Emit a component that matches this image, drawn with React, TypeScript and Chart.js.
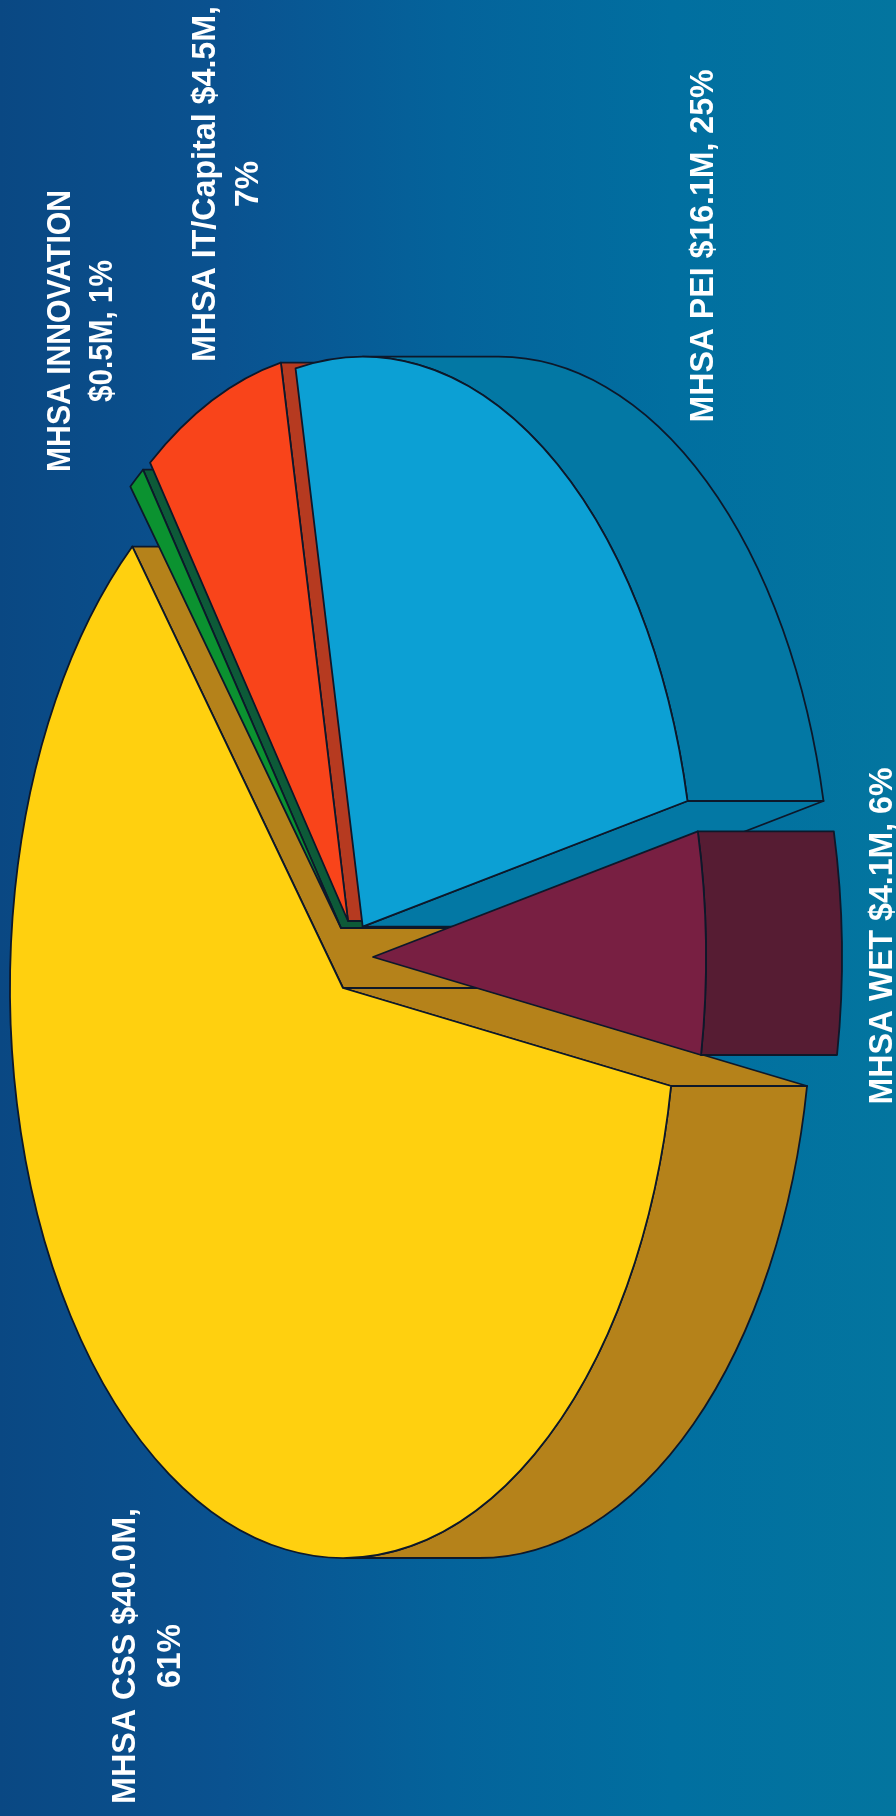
import React, { useEffect, useRef } from "react";
import { Chart, registerables } from "chart.js";

Chart.register(...registerables);

// Funding by MHSA component, in millions of dollars.
const categories = ["MHSA CSS", "MHSA INNOVATION", "MHSA IT/Capital", "MHSA PEI", "MHSA WET"];
const millions = [40.0, 0.5, 4.5, 16.1, 4.1];

// Labels are printed sideways, one array entry per line.
const labelLines = [
  ["MHSA CSS $40.0M,", "61%"],
  ["MHSA INNOVATION", "$0.5M, 1%"],
  ["MHSA IT/Capital $4.5M,", "7%"],
  ["MHSA PEI $16.1M, 25%"],
  ["MHSA WET $4.1M, 6%"],
];
const labelBaselineX = [[135, 180], [69.5, 112], [215, 258], [713], [892]];
const labelCenterY = [1656, 331, 184, 246, 936];
const labelMaxLength = [[296, 64], [282, 142], [356, 46], [353], [337]];

const faceColors = ["#ffd00f", "#0b9230", "#f9441a", "#0ca0d4", "#781f42"];
const wallColors = ["#b5821a", "#0d5a38", "#b63a20", "#0378a4", "#561c33"];

// Exploded position of each slice's apex relative to the pie centre.
const explodeX = [0, -2, 5, 19.7, 30];
const explodeY = [0, -60, -67, -61.3, -31];

const WIDTH = 896;
const HEIGHT = 1816;
const CX = 343;
const CY = 988;
const RX = 333;
const RY = 570;
const DEPTH = 136;
const SQUASH = RX / RY;
const OUTLINE = "#0d182a";
const FONT = 'bold 32.5px "Liberation Sans", Arial, sans-serif';

function apexOf(arc: any) {
  return { x: CX + (arc.x - CX) * SQUASH, y: arc.y };
}

function strokePath(ctx: CanvasRenderingContext2D) {
  ctx.strokeStyle = OUTLINE;
  ctx.lineWidth = 1.8;
  ctx.lineJoin = "round";
  ctx.stroke();
}

function drawCutWall(ctx: CanvasRenderingContext2D, ax: number, ay: number, angle: number, color: string) {
  const ex = ax + RX * Math.cos(angle);
  const ey = ay + RY * Math.sin(angle);
  ctx.beginPath();
  ctx.moveTo(ax, ay);
  ctx.lineTo(ex, ey);
  ctx.lineTo(ex + DEPTH, ey);
  ctx.lineTo(ax + DEPTH, ay);
  ctx.closePath();
  ctx.fillStyle = color;
  ctx.fill();
  strokePath(ctx);
}

function drawRimWall(ctx: CanvasRenderingContext2D, ax: number, ay: number, from: number, to: number, color: string) {
  ctx.beginPath();
  ctx.ellipse(ax, ay, RX, RY, 0, from, to);
  ctx.ellipse(ax + DEPTH, ay, RX, RY, 0, to, from, true);
  ctx.closePath();
  ctx.fillStyle = color;
  ctx.fill();
  strokePath(ctx);
}

const pie3d = {
  id: "pie3d",
  // Moves every slice to its exploded position once the controller has laid them out.
  afterDatasetsUpdate(chart: any) {
    chart.getDatasetMeta(0).data.forEach((arc: any, i: number) => {
      arc.x = CX + explodeX[i] / SQUASH;
      arc.y = CY + explodeY[i];
    });
  },
  // Side walls sit under the top faces; the extrusion runs towards +x.
  beforeDatasetsDraw(chart: any) {
    const ctx = chart.ctx as CanvasRenderingContext2D;
    chart.getDatasetMeta(0).data.forEach((arc: any, i: number) => {
      const { x, y } = apexOf(arc);
      const start = arc.startAngle;
      const end = arc.endAngle;
      if (Math.sin(start) > 0) drawCutWall(ctx, x, y, start, wallColors[i]);
      if (Math.sin(end) < 0) drawCutWall(ctx, x, y, end, wallColors[i]);
      // Only the part of the rim that faces +x can be seen.
      const twoPi = Math.PI * 2;
      for (let k = -1; k <= 1; k++) {
        const from = Math.max(start, -Math.PI / 2 + k * twoPi);
        const to = Math.min(end, Math.PI / 2 + k * twoPi);
        if (to > from) drawRimWall(ctx, x, y, from, to, wallColors[i]);
      }
    });
    // The round pie's arcs are squashed into the tilted ellipse.
    ctx.save();
    ctx.translate(CX, CY);
    ctx.scale(SQUASH, 1);
    ctx.translate(-CX, -CY);
  },
  afterDatasetsDraw(chart: any) {
    const ctx = chart.ctx as CanvasRenderingContext2D;
    ctx.restore();
    chart.getDatasetMeta(0).data.forEach((arc: any) => {
      const { x, y } = apexOf(arc);
      ctx.beginPath();
      ctx.moveTo(x, y);
      ctx.ellipse(x, y, RX, RY, 0, arc.startAngle, arc.endAngle);
      ctx.closePath();
      strokePath(ctx);
    });
    ctx.save();
    ctx.fillStyle = "#ffffff";
    ctx.font = FONT;
    ctx.textAlign = "center";
    ctx.textBaseline = "alphabetic";
    labelLines.forEach((lines, i) => {
      lines.forEach((line, j) => {
        ctx.save();
        ctx.translate(labelBaselineX[i][j], labelCenterY[i]);
        ctx.rotate(-Math.PI / 2);
        ctx.fillText(line, 0, 0, labelMaxLength[i][j]);
        ctx.restore();
      });
    });
    ctx.restore();
  },
};

export default function App() {
  const canvasRef = useRef<HTMLCanvasElement>(null);

  useEffect(() => {
    const chart = new Chart(canvasRef.current as HTMLCanvasElement, {
      type: "pie",
      data: {
        labels: categories,
        datasets: [
          {
            data: millions,
            backgroundColor: faceColors,
            borderWidth: 0,
            radius: RY,
            clip: false,
          } as any,
        ],
      },
      options: {
        animation: false,
        responsive: false,
        rotation: 99.9,
        layout: { padding: { right: WIDTH - 2 * CX, top: 2 * CY - HEIGHT } },
        plugins: { legend: { display: false }, tooltip: { enabled: false } },
      },
      plugins: [pie3d],
    });
    return () => chart.destroy();
  }, []);

  return (
    <div
      style={{
        position: "absolute",
        left: 0,
        top: 0,
        width: WIDTH,
        height: HEIGHT,
        background: "linear-gradient(90deg, #0a4883 0%, #0a5290 25%, #04639b 50%, #016fa0 75%, #03759f 100%)",
      }}
    >
      <canvas ref={canvasRef} width={WIDTH} height={HEIGHT} style={{ display: "block" }} />
    </div>
  );
}
